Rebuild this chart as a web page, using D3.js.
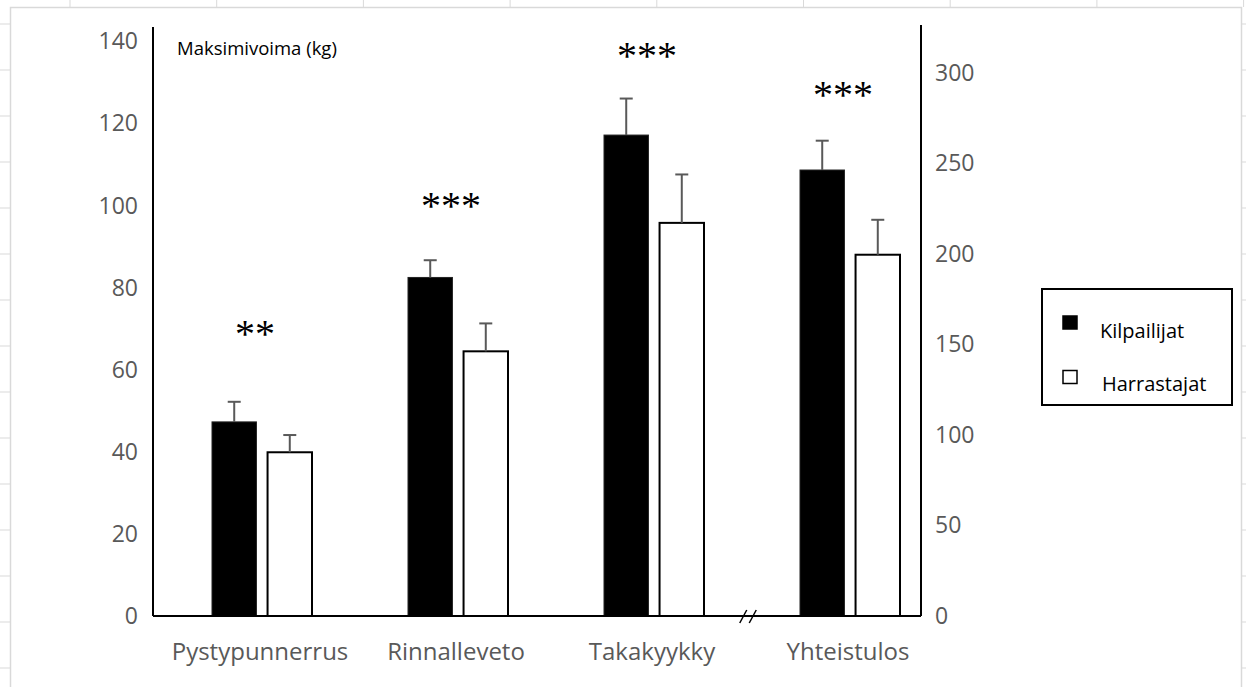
<!DOCTYPE html>
<html>
<head>
<meta charset="utf-8">
<script src="https://cdn.jsdelivr.net/npm/d3@7"></script>
<style>
  body { margin: 0; background: #fff; }
  svg { display: block; }
</style>
</head>
<body>
<svg id="chart" width="1246" height="687"></svg>
<script>
// values
const categories = ["Pystypunnerrus", "Rinnalleveto", "Takakyykky", "Yhteistulos"]
const series = ["Kilpailijat", "Harrastajat"]
const kilpailijat = [47.3, 82.5, 117.2, 246.4]
const kilpailijatSd = [4.9, 4.2, 8.9, 16.2]
const harrastajat = [39.9, 64.5, 95.8, 199.6]
const harrastajatSd = [4.2, 6.8, 11.8, 19.3]
const significance = ["**", "***", "***", "***"]
const significanceAt = [70.3, 101.3, 138, 291] // height of the stars, in axis units
const leftTicks = [0, 20, 40, 60, 80, 100, 120, 140]
const rightTicks = [0, 50, 100, 150, 200, 250, 300]
const secondaryCategory = "Yhteistulos" // drawn against the right axis
const yLabel = "Maksimivoima (kg)"

const W = 1246, H = 687
const plot = {left: 153, right: 921, top: 26, bottom: 616}
const font = "'Open Sans', sans-serif"
const gray = "#595959"

let svg = d3.select("#chart")

// excel sheet frame behind the chart
let frame = svg.append("g").attr("stroke", "#d9d9d9").attr("fill", "none")
frame.append("rect")
  .attr("x", 10.5).attr("y", 7.5).attr("width", 1231).attr("height", 700)
  .attr("stroke-width", 1.5)
frame.selectAll("line.col")
  .data(d3.range(70, W, 146.7)).enter()
  .append("line")
  .attr("x1", d => d).attr("x2", d => d).attr("y1", 0).attr("y2", 7)
frame.selectAll("line.rowl")
  .data(d3.range(24, H, 46)).enter()
  .append("line")
  .attr("x1", 0).attr("x2", 10).attr("y1", d => d).attr("y2", d => d)
frame.selectAll("line.rowr")
  .data(d3.range(24, H, 46)).enter()
  .append("line")
  .attr("x1", 1242).attr("x2", W).attr("y1", d => d).attr("y2", d => d)

// scales
let x0 = d3.scaleBand().domain(categories).range([162, 946])
let x1 = d3.scaleBand().domain(series).range([50, 150]).paddingInner(0.2)
let yLeft = d3.scaleLinear().domain([0, 140]).range([plot.bottom, 41.5])
let yRight = d3.scaleLinear().domain([0, 300]).range([plot.bottom, 73])
let yFor = c => c === secondaryCategory ? yRight : yLeft

let rows = categories.map((c, i) => ({
  cat: c,
  sig: significance[i],
  sigAt: significanceAt[i],
  values: [
    {s: "Kilpailijat", v: kilpailijat[i], sd: kilpailijatSd[i]},
    {s: "Harrastajat", v: harrastajat[i], sd: harrastajatSd[i]}
  ]
}))

// bars
let groups = svg.append("g").selectAll("g")
  .data(rows).enter()
  .append("g")
  .attr("transform", d => `translate(${x0(d.cat)},0)`)

groups.selectAll("rect")
  .data(d => d.values.map(v => ({...v, cat: d.cat}))).enter()
  .append("rect")
  .attr("x", d => x1(d.s))
  .attr("y", d => yFor(d.cat)(d.v))
  .attr("width", x1.bandwidth())
  .attr("height", d => plot.bottom - yFor(d.cat)(d.v))
  .attr("fill", d => d.s === "Kilpailijat" ? "#000" : "#fff")
  .attr("stroke", d => d.s === "Kilpailijat" ? "#222" : "#000")
  .attr("stroke-width", d => d.s === "Kilpailijat" ? 1 : 2)

// error bars (upper only)
let err = groups.selectAll("g.err")
  .data(d => d.values.map(v => ({...v, cat: d.cat}))).enter()
  .append("g")
  .attr("stroke", gray).attr("stroke-width", 2)
err.append("line")
  .attr("x1", d => x1(d.s) + x1.bandwidth() / 2)
  .attr("x2", d => x1(d.s) + x1.bandwidth() / 2)
  .attr("y1", d => yFor(d.cat)(d.v))
  .attr("y2", d => yFor(d.cat)(d.v + d.sd))
err.append("line")
  .attr("x1", d => x1(d.s) + x1.bandwidth() / 2 - 6.5)
  .attr("x2", d => x1(d.s) + x1.bandwidth() / 2 + 6.5)
  .attr("y1", d => yFor(d.cat)(d.v + d.sd))
  .attr("y2", d => yFor(d.cat)(d.v + d.sd))

// significance stars
groups.append("text")
  .attr("x", x0.bandwidth() / 2 - 5)
  .attr("y", d => yFor(d.cat)(d.sigAt) + 19)
  .attr("text-anchor", "middle")
  .attr("font-family", "'Liberation Serif', serif")
  .attr("font-size", 40)
  .attr("fill", "#000")
  .text(d => d.sig)

// baseline and axis break
svg.append("line")
  .attr("x1", plot.left).attr("x2", plot.right)
  .attr("y1", plot.bottom).attr("y2", plot.bottom)
  .attr("stroke", "#000").attr("stroke-width", 2)
let bx = x0(secondaryCategory) - 2
svg.selectAll("line.brk")
  .data([-4.75, 4.75]).enter()
  .append("line")
  .attr("x1", d => bx + d - 3.5).attr("x2", d => bx + d + 3.5)
  .attr("y1", plot.bottom + 7).attr("y2", plot.bottom - 6)
  .attr("stroke", "#000").attr("stroke-width", 1.5)

// axes
let styleAxis = g => {
  g.select(".domain").attr("stroke", "#000").attr("stroke-width", 2)
  g.selectAll("text").attr("font-family", font).attr("font-size", 23).attr("fill", gray)
}
svg.append("g")
  .attr("transform", `translate(${plot.left},0)`)
  .call(d3.axisLeft(yLeft).tickValues(leftTicks).tickSize(0).tickPadding(15))
  .call(g => g.select(".domain").attr("d", `M0,${plot.bottom}V${plot.top + 1}`))
  .call(styleAxis)
svg.append("g")
  .attr("transform", `translate(${plot.right},0)`)
  .call(d3.axisRight(yRight).tickValues(rightTicks).tickSize(0).tickPadding(14))
  .call(g => g.select(".domain").attr("d", `M0,${plot.bottom}V${plot.top - 1}`))
  .call(styleAxis)
svg.append("g")
  .attr("transform", `translate(0,${plot.bottom})`)
  .call(d3.axisBottom(x0).tickSize(0).tickPadding(27))
  .call(g => g.select(".domain").remove())
  .call(g => g.selectAll("text").attr("font-family", font).attr("font-size", 24).attr("fill", gray))

// label inside the plot
svg.append("text")
  .attr("x", 177).attr("y", 55)
  .attr("font-family", font).attr("font-size", 18.5).attr("fill", "#000")
  .text(yLabel)

// legend
let legend = svg.append("g").attr("transform", "translate(1042,289)")
legend.append("rect")
  .attr("width", 190).attr("height", 116)
  .attr("fill", "#fff").attr("stroke", "#000").attr("stroke-width", 2)
let item = legend.selectAll("g")
  .data(series).enter()
  .append("g")
  .attr("transform", (d, i) => `translate(0,${i * 53})`)
item.append("rect")
  .attr("x", 21).attr("y", (d, i) => 27 + i * 1.5)
  .attr("width", 14).attr("height", 13)
  .attr("fill", d => d === "Kilpailijat" ? "#000" : "#fff")
  .attr("stroke", "#000").attr("stroke-width", 1.5)
item.append("text")
  .attr("x", (d, i) => 58 + i * 2).attr("y", 49)
  .attr("font-family", font).attr("font-size", 20).attr("fill", "#000")
  .text(d => d)
</script>
</body>
</html>
